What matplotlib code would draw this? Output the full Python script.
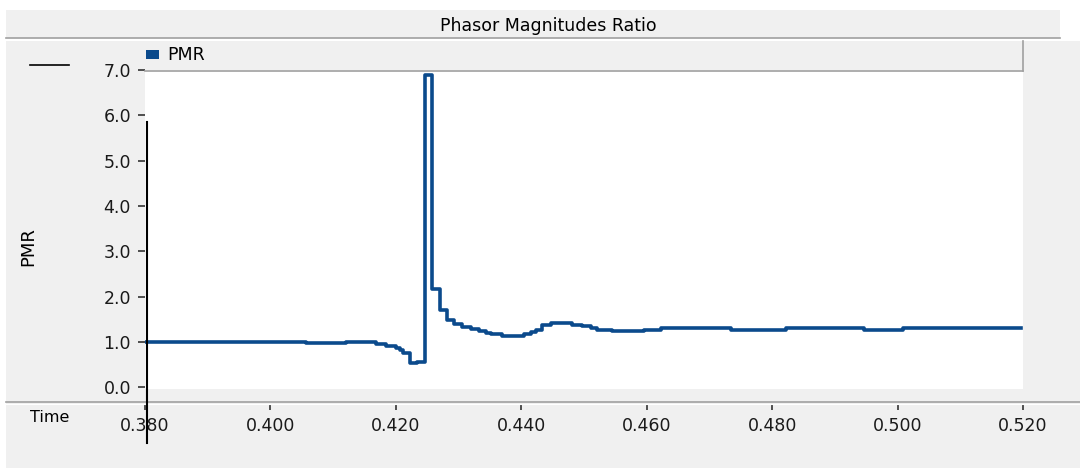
import numpy as np
import matplotlib.pyplot as plt
from matplotlib.patches import Rectangle, Patch
from matplotlib.lines import Line2D

# step data (value holds until the next time)
time = [0.3800, 0.4057, 0.4121, 0.4158, 0.4169, 0.4185, 0.4201, 0.4206,
        0.4211, 0.4222, 0.4234, 0.4246, 0.4258, 0.4271, 0.4282, 0.4293,
        0.4306, 0.4320, 0.4333, 0.4344, 0.4352, 0.4370, 0.4405, 0.4416,
        0.4424, 0.4433, 0.4448, 0.4481, 0.4497, 0.4511, 0.4521, 0.4545,
        0.4596, 0.4623, 0.4734, 0.4822, 0.4946, 0.5009, 0.5197]
pmr = [1.00, 0.97, 1.00, 0.99, 0.95, 0.91, 0.86, 0.82,
       0.76, 0.53, 0.56, 6.88, 2.16, 1.71, 1.49, 1.39,
       1.32, 1.28, 1.23, 1.19, 1.17, 1.12, 1.17, 1.21,
       1.26, 1.38, 1.41, 1.375, 1.34, 1.30, 1.265, 1.23,
       1.265, 1.30, 1.265, 1.30, 1.265, 1.30, 1.30]

x_ticks = [0.380, 0.400, 0.420, 0.440, 0.460, 0.480, 0.500, 0.520]
y_ticks = [0.0, 1.0, 2.0, 3.0, 4.0, 5.0, 6.0, 7.0]

W, H = 1080, 468
def fx(px):
  return px / W
def fy(py):
  return 1 - py / H

gray = '#f0f0f0'
edge = '#a0a0a0'
blue = '#0b4a8c'
fs = 12.5

fig = plt.figure(figsize=(10.8, 4.68), dpi=100, facecolor='white')

# background panels
fig.add_artist(Rectangle((fx(6), fy(38)), fx(1060) - fx(6), fy(10) - fy(38),
                         facecolor=gray, edgecolor='none', zorder=-2,
                         transform=fig.transFigure))
fig.add_artist(Rectangle((fx(6), 0), 1 - fx(6), fy(41.3),
                         facecolor=gray, edgecolor='none', zorder=-2,
                         transform=fig.transFigure))
fig.add_artist(Line2D([fx(6), fx(1060)], [fy(38), fy(38)], color=edge, lw=1.2))

# plot area
ax = fig.add_axes([fx(145), fy(389), fx(1023) - fx(145), fy(70) - fy(389)])
ax.set_facecolor('white')
ax.plot(time, pmr, drawstyle='steps-post', color=blue, lw=2.6)
ax.set_xlim(0.38, 0.5198)
ax.set_ylim(-0.04, 7.0)
ax.set_xticks(x_ticks)
ax.set_xticklabels(['%.3f' % t for t in x_ticks])
ax.set_yticks(y_ticks)
ax.set_yticklabels(['%.1f' % v for v in y_ticks])
for s in ax.spines.values():
  s.set_visible(False)
ax.spines['bottom'].set_position(('outward', 11.5))
ax.tick_params(axis='x', direction='out', length=3.6, width=1.1, pad=5,
               labelsize=fs, color='#222222', labelcolor='#1a1a1a')
ax.tick_params(axis='y', direction='out', length=4.8, width=1.1, pad=5.3,
               labelsize=fs, color='#222222', labelcolor='#1a1a1a')

# legend band
fig.add_artist(Line2D([fx(145), fx(1023)], [fy(70.5), fy(70.5)], color=edge, lw=1.2, zorder=5))
fig.add_artist(Line2D([fx(1023), fx(1023)], [fy(41.3), fy(71)], color=edge, lw=1.2, zorder=5))
fig.legend(handles=[Patch(facecolor=blue, edgecolor='none', label='PMR')],
           loc='center left', bbox_to_anchor=(fx(146), fy(55.5)), frameon=False,
           fontsize=fs, handlelength=0.75, handleheight=0.4, handletextpad=0.5,
           borderaxespad=0, borderpad=0)

# x axis band separator
fig.add_artist(Line2D([fx(6), 1], [fy(401.7), fy(401.7)], color=edge, lw=1.2, zorder=5))
fig.add_artist(Line2D([fx(6), 1], [fy(403.6), fy(403.6)], color='white', lw=0.8, zorder=5))

# cursor line and the small black mark top left
fig.add_artist(Line2D([fx(146.7), fx(146.7)], [fy(121.7), fy(443)], color='black', lw=1.5, zorder=6))
fig.add_artist(Line2D([fx(30), fx(69)], [fy(65.4), fy(65.4)], color='black', lw=1.2))

fig.text(fx(548), fy(26), 'Phasor Magnitudes Ratio', ha='center', va='center', fontsize=fs)
fig.text(fx(28), fy(247), 'PMR', rotation=90, ha='center', va='center', fontsize=13)
fig.text(fx(50), fy(418), 'Time', ha='center', va='center', fontsize=11.5)

fig.savefig('out.png', dpi=100, facecolor=fig.get_facecolor())
